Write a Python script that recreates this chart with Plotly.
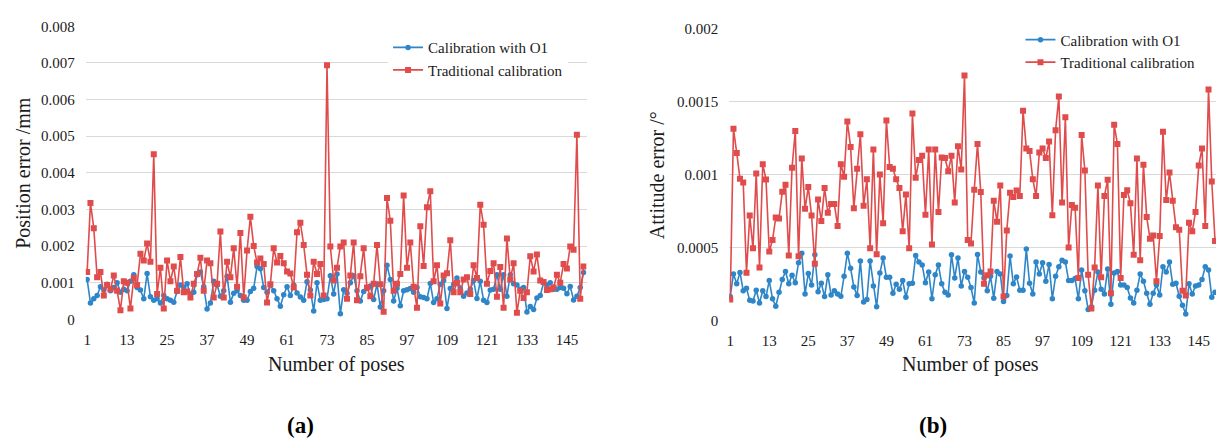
import plotly.graph_objects as go

# ---------------- data ----------------
poses = list(range(1, 151))
x_tick_vals = [1, 13, 25, 37, 49, 61, 73, 85, 97, 109, 121, 133, 145]

series_names = ["Calibration with O1", "Traditional calibration"]

# (a) position error / mm
pos_o1 = [
    0.00109, 0.00045, 0.00056, 0.00065, 0.00089, 0.00080, 0.00096, 0.00078, 0.00087, 0.00100,
    0.00074, 0.00082, 0.00078, 0.00104, 0.00122, 0.00087, 0.00080, 0.00056, 0.00125, 0.00062,
    0.00052, 0.00056, 0.00045, 0.00065,
    0.00056, 0.00052, 0.00047, 0.00076, 0.00094, 0.00087, 0.00097, 0.00069, 0.00074, 0.00122,
    0.00129, 0.00089, 0.00028, 0.00045, 0.00104, 0.00094, 0.00063, 0.00078, 0.00118, 0.00047,
    0.00071, 0.00078, 0.00065, 0.00052, 0.00052, 0.00076, 0.00085, 0.00144, 0.00138, 0.00087,
    0.00074, 0.00094, 0.00078, 0.00056, 0.00036, 0.00067, 0.00089, 0.00065, 0.00094, 0.00072,
    0.00061, 0.00052, 0.00103, 0.00080, 0.00023, 0.00100,
    0.00052, 0.00054, 0.00056, 0.00119, 0.00069, 0.00124, 0.00015, 0.00081, 0.00071, 0.00100,
    0.00119, 0.00078, 0.00050, 0.00076, 0.00085, 0.00091, 0.00054, 0.00096, 0.00034, 0.00078,
    0.00148, 0.00109, 0.00050, 0.00085, 0.00037, 0.00078, 0.00081, 0.00084, 0.00074, 0.00087,
    0.00062, 0.00060, 0.00056, 0.00098, 0.00046, 0.00056, 0.00096, 0.00106, 0.00030,
    0.00084, 0.00096, 0.00113, 0.00085, 0.00063, 0.00072, 0.00082, 0.00106, 0.00057, 0.00104,
    0.00052, 0.00046, 0.00080, 0.00082, 0.00122, 0.00082, 0.00122, 0.00063, 0.00122, 0.00097,
    0.00094, 0.00082, 0.00087, 0.00020, 0.00035, 0.00027, 0.00058, 0.00065, 0.00100, 0.00094,
    0.00100, 0.00082, 0.00082, 0.00087, 0.00085, 0.00070, 0.00090, 0.00053, 0.00063, 0.00087,
    0.00128,
]
pos_trad = [
    0.00129, 0.00318, 0.00249, 0.00115, 0.00129, 0.00065, 0.00094, 0.00082, 0.00120, 0.00078,
    0.00025, 0.00104, 0.00100, 0.00030, 0.00113, 0.00094, 0.00179, 0.00161, 0.00207, 0.00157,
    0.00451, 0.00069, 0.00141, 0.00030,
    0.00161, 0.00104, 0.00144, 0.00078, 0.00170, 0.00074, 0.00076, 0.00060, 0.00097, 0.00124,
    0.00168, 0.00078, 0.00161, 0.00153, 0.00060, 0.00097, 0.00240, 0.00060, 0.00157, 0.00115,
    0.00194, 0.00089, 0.00236, 0.00060, 0.00188, 0.00280, 0.00200, 0.00155, 0.00166, 0.00151,
    0.00046, 0.00096, 0.00194, 0.00155, 0.00173, 0.00153, 0.00131, 0.00125, 0.00087, 0.00238,
    0.00264, 0.00203, 0.00122, 0.00065, 0.00157, 0.00124,
    0.00151, 0.00065, 0.00694, 0.00199, 0.00106, 0.00141, 0.00199, 0.00210, 0.00056, 0.00120,
    0.00210, 0.00052, 0.00118, 0.00194, 0.00087, 0.00063, 0.00097, 0.00203, 0.00096, 0.00021,
    0.00331, 0.00269, 0.00078, 0.00097, 0.00124, 0.00338, 0.00141, 0.00210, 0.00089, 0.00032,
    0.00254, 0.00146, 0.00306, 0.00350, 0.00104, 0.00148, 0.00043, 0.00120, 0.00126,
    0.00216, 0.00074, 0.00100, 0.00074, 0.00109, 0.00115, 0.00069, 0.00148, 0.00113, 0.00313,
    0.00258, 0.00097, 0.00132, 0.00153, 0.00062, 0.00143, 0.00032, 0.00221, 0.00109, 0.00153,
    0.00018, 0.00078, 0.00058, 0.00074, 0.00172, 0.00131, 0.00177, 0.00106, 0.00102, 0.00080,
    0.00082, 0.00087, 0.00122, 0.00100, 0.00151, 0.00139, 0.00199, 0.00190, 0.00504, 0.00056,
    0.00144,
]

# (b) attitude error / degree
att_o1 = [
    0.000163, 0.000318, 0.000251, 0.000329, 0.000203, 0.000220, 0.000137, 0.000132, 0.000207, 0.000119,
    0.000203, 0.000163, 0.000273, 0.000148, 0.000097, 0.000192, 0.000280, 0.000335,
    0.000251, 0.000309, 0.000258, 0.000395, 0.000461, 0.000181, 0.000322, 0.000243, 0.000450, 0.000196,
    0.000254, 0.000163, 0.000313, 0.000174, 0.000203, 0.000181, 0.000165, 0.000302, 0.000461, 0.000357,
    0.000229, 0.000170, 0.000408, 0.000126, 0.000143, 0.000408, 0.000236, 0.000093, 0.000324, 0.000428,
    0.000295, 0.000295, 0.000185, 0.000247, 0.000214, 0.000273, 0.000159, 0.000251, 0.000254, 0.000445,
    0.000401, 0.000379, 0.000258, 0.000331, 0.000148, 0.000313, 0.000379, 0.000251, 0.000192, 0.000174,
    0.000450, 0.000291, 0.000428, 0.000236, 0.000335, 0.000295, 0.000225, 0.000119, 0.000452, 0.000331,
    0.000291, 0.000203, 0.000302, 0.000152, 0.000335, 0.000318, 0.000130, 0.000170, 0.000441, 0.000251,
    0.000298, 0.000207, 0.000207, 0.000490, 0.000254, 0.000181, 0.000401, 0.000318, 0.000395, 0.000269,
    0.000384, 0.000148,
    0.000302, 0.000368, 0.000412, 0.000401, 0.000273, 0.000273, 0.000287, 0.000148, 0.000346, 0.000203,
    0.000075, 0.000093, 0.000207, 0.000331, 0.000214, 0.000181, 0.000353, 0.000110, 0.000324, 0.000335,
    0.000243, 0.000243, 0.000225, 0.000154, 0.000119, 0.000207, 0.000318, 0.000269, 0.000185, 0.000110,
    0.000185, 0.000243, 0.000174, 0.000368, 0.000331, 0.000401, 0.000247, 0.000254, 0.000165, 0.000104,
    0.000044, 0.000251, 0.000181, 0.000236, 0.000243, 0.000280, 0.000368, 0.000346, 0.000159, 0.000192,
]
att_trad = [
    0.000143, 0.001314, 0.001149, 0.000972, 0.000946, 0.000326, 0.000719, 0.000494, 0.001008, 0.000362,
    0.001072, 0.000966, 0.000472, 0.000551, 0.000706, 0.000699, 0.000882, 0.000930,
    0.000445, 0.001047, 0.001300, 0.000439, 0.001110, 0.000765, 0.000915, 0.000719, 0.000388, 0.000829,
    0.000681, 0.000908, 0.000739, 0.000798, 0.000798, 0.000648, 0.001072, 0.000986, 0.001365, 0.001189,
    0.000770, 0.001041, 0.001277, 0.000787, 0.000968, 0.000494, 0.001173, 0.000454, 0.001001, 0.000666,
    0.001372, 0.001052, 0.001041, 0.000968, 0.000908, 0.000611, 0.000864, 0.000494, 0.001420, 0.000979,
    0.001100, 0.001129, 0.000725, 0.001173, 0.000520, 0.001173, 0.000743, 0.001118, 0.001114, 0.001023,
    0.001129, 0.000809, 0.001195, 0.001036, 0.001680, 0.000551, 0.000527, 0.000897, 0.001211, 0.000880,
    0.000251, 0.000309, 0.000335, 0.000820, 0.000677, 0.000926, 0.000163, 0.000617, 0.000875, 0.000847,
    0.000891, 0.000853, 0.001438, 0.001180, 0.001162, 0.000968, 0.000853, 0.001151, 0.001180, 0.001114,
    0.001228, 0.000721,
    0.001305, 0.001537, 0.000809, 0.001394, 0.000500, 0.000792, 0.000772, 0.000291, 0.001272, 0.001028,
    0.000313, 0.000082, 0.000362, 0.000926, 0.000295, 0.000853, 0.000964, 0.000185, 0.001343, 0.001211,
    0.000291, 0.000860, 0.000893, 0.000803, 0.000450, 0.001111, 0.000412, 0.001067, 0.000710, 0.000560,
    0.000582, 0.000269, 0.000578, 0.001294, 0.000825, 0.001014, 0.000820, 0.000639, 0.000622, 0.000203,
    0.000170, 0.000670, 0.000611, 0.000743, 0.001063, 0.001180, 0.000648, 0.001585, 0.000953, 0.000545,
]

pos_tick_vals = [0, 0.001, 0.002, 0.003, 0.004, 0.005, 0.006, 0.007, 0.008]
pos_tick_text = ["0", "0.001", "0.002", "0.003", "0.004", "0.005", "0.006", "0.007", "0.008"]
att_tick_vals = [0, 0.0005, 0.001, 0.0015, 0.002]
att_tick_text = ["0", "0.0005", "0.001", "0.0015", "0.002"]

# ---------------- style ----------------
W, H = 1218, 444
def px(v):
    return v / W
def py(v):
    return 1 - v / H

BLUE = "#2E86C8"
RED = "#E04B4B"
SERIF = "Liberation Serif, Times New Roman, serif"
TXT = "#1a1a1a"
GRID = "#d9d9d9"

fig = go.Figure()

def add_pair(y_o1, y_trad, xa, ya, leg):
    fig.add_trace(go.Scatter(
        x=poses, y=y_o1, mode="lines+markers", name=series_names[0],
        line=dict(color=BLUE, width=1.6),
        marker=dict(symbol="circle", size=5.5, color=BLUE),
        xaxis=xa, yaxis=ya, legend=leg, legendgroup=leg + "o1"))
    fig.add_trace(go.Scatter(
        x=poses, y=y_trad, mode="lines+markers", name=series_names[1],
        line=dict(color=RED, width=1.6),
        marker=dict(symbol="square", size=6, color=RED),
        xaxis=xa, yaxis=ya, legend=leg, legendgroup=leg + "trad"))

add_pair(pos_o1, pos_trad, "x", "y", "legend")
add_pair(att_o1, att_trad, "x2", "y2", "legend2")

xcommon = dict(tickvals=x_tick_vals, showgrid=False, zeroline=False, showline=False,
               ticks="", tickfont=dict(family=SERIF, size=15, color=TXT),
               ticklabelstandoff=10)
ycommon = dict(showgrid=True, gridcolor=GRID, gridwidth=1.3, zeroline=False, showline=False,
               ticks="", tickfont=dict(family=SERIF, size=15, color=TXT),
               ticklabelstandoff=10)

legcommon = dict(bgcolor="white", borderwidth=0, font=dict(family=SERIF, size=15, color=TXT),
                 xanchor="left", yanchor="top", tracegroupgap=0, itemwidth=30)

fig.update_layout(
    width=W, height=H,
    margin=dict(l=0, r=0, t=0, b=0),
    paper_bgcolor="white", plot_bgcolor="white",
    showlegend=True,
    xaxis=dict(domain=[px(83), px(585)], range=[0.6, 150.9], anchor="y", **xcommon),
    yaxis=dict(domain=[py(323), py(19)], range=[0, 0.008], anchor="x",
               tickvals=pos_tick_vals, ticktext=pos_tick_text, **ycommon),
    xaxis2=dict(domain=[px(728), px(1216)], range=[0.69, 150.3], anchor="y2", **xcommon),
    yaxis2=dict(domain=[py(324), py(21.7)], range=[0, 0.002], anchor="x2",
                tickvals=att_tick_vals, ticktext=att_tick_text, **ycommon),
    legend=dict(x=px(386), y=py(24), **legcommon),
    legend2=dict(x=px(1020), y=py(16), **legcommon),
)

annotations = [
    dict(text="Position error /mm", x=px(20), y=py(171), textangle=-90,
         font=dict(family=SERIF, size=20, color=TXT)),
    dict(text="Attitude error /°", x=px(655), y=py(173), textangle=-90,
         font=dict(family=SERIF, size=20, color=TXT)),
    dict(text="Number of poses", x=px(334), y=py(370),
         font=dict(family=SERIF, size=20, color=TXT)),
    dict(text="Number of poses", x=px(970), y=py(370),
         font=dict(family=SERIF, size=20, color=TXT)),
    dict(text="<b>(a)</b>", x=px(298), y=py(433),
         font=dict(family="Liberation Serif, serif", size=23, color="black")),
    dict(text="<b>(b)</b>", x=px(932), y=py(433),
         font=dict(family="Liberation Serif, serif", size=23, color="black")),
]
for a in annotations:
    a.update(xref="paper", yref="paper", showarrow=False, xanchor="center", yanchor="middle")
fig.update_layout(annotations=annotations)

fig.write_html("out.html")
